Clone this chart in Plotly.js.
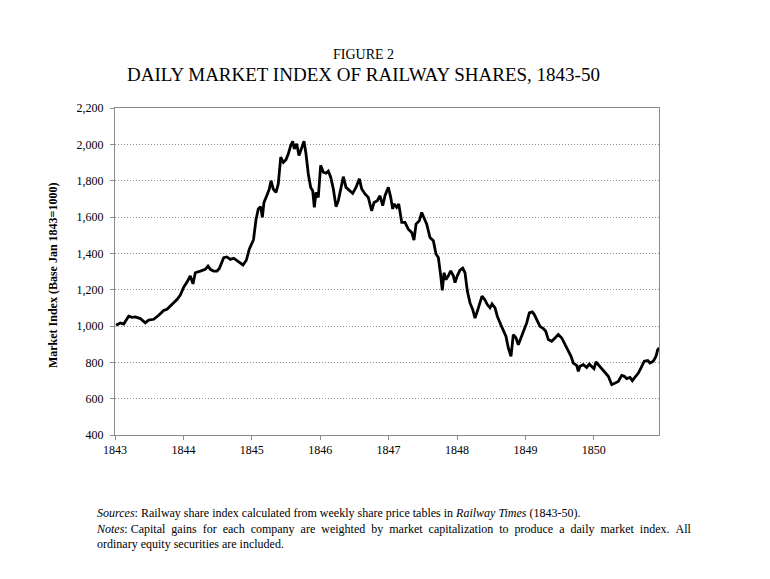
<!DOCTYPE html>
<html>
<head>
<meta charset="utf-8">
<script src="https://cdn.plot.ly/plotly-3.0.1.min.js"></script>
<style>
  html, body { margin: 0; padding: 0; background: #fff; }
  #chart { width: 770px; height: 579px; }
</style>
</head>
<body>
<div id="chart"></div>
<script>
// Decimal year positions of the traced points
const years = [
  1843.015, 1843.077, 1843.127, 1843.151, 1843.200, 1843.249, 1843.297, 1843.370, 1843.443, 1843.493,
  1843.566, 1843.639, 1843.712, 1843.760, 1843.833, 1843.906, 1843.955, 1844.004, 1844.053, 1844.101,
  1844.140, 1844.174, 1844.247, 1844.320, 1844.360, 1844.393, 1844.443, 1844.491, 1844.525, 1844.589,
  1844.637, 1844.686, 1844.735, 1844.784, 1844.832, 1844.871, 1844.920, 1844.963, 1845.025, 1845.061,
  1845.095, 1845.130, 1845.154, 1845.178, 1845.218, 1845.256, 1845.281, 1845.314, 1845.354, 1845.387,
  1845.423, 1845.461, 1845.500, 1845.534, 1845.569, 1845.598, 1845.621, 1845.656, 1845.690, 1845.730,
  1845.763, 1845.792, 1845.826, 1845.861, 1845.890, 1845.914, 1845.939, 1845.972, 1846.007, 1846.045,
  1846.085, 1846.118, 1846.154, 1846.192, 1846.231, 1846.265, 1846.300, 1846.338, 1846.377, 1846.425,
  1846.475, 1846.523, 1846.572, 1846.607, 1846.655, 1846.703, 1846.753, 1846.787, 1846.835, 1846.874,
  1846.914, 1846.947, 1846.996, 1847.031, 1847.060, 1847.079, 1847.118, 1847.148, 1847.192, 1847.240,
  1847.288, 1847.338, 1847.371, 1847.401, 1847.449, 1847.484, 1847.518, 1847.557, 1847.605, 1847.654,
  1847.693, 1847.727, 1847.762, 1847.785, 1847.810, 1847.839, 1847.873, 1847.908, 1847.946, 1847.971,
  1848.004, 1848.044, 1848.083, 1848.117, 1848.151, 1848.190, 1848.229, 1848.263, 1848.297, 1848.336,
  1848.365, 1848.405, 1848.443, 1848.482, 1848.512, 1848.556, 1848.589, 1848.639, 1848.677, 1848.716,
  1848.750, 1848.789, 1848.823, 1848.863, 1848.896, 1848.936, 1848.969, 1849.019, 1849.057, 1849.101,
  1849.130, 1849.165, 1849.213, 1849.262, 1849.297, 1849.335, 1849.384, 1849.433, 1849.481, 1849.531,
  1849.579, 1849.627, 1849.667, 1849.700, 1849.750, 1849.773, 1849.798, 1849.846, 1849.896, 1849.934,
  1849.969, 1850.003, 1850.032, 1850.066, 1850.115, 1850.164, 1850.212, 1850.262, 1850.310, 1850.358,
  1850.408, 1850.446, 1850.481, 1850.529, 1850.563, 1850.602, 1850.651, 1850.690, 1850.738, 1850.788,
  1850.822, 1850.870, 1850.909, 1850.934, 1850.958
];
// Market index values (Base Jan 1843 = 1000)
const marketIndex = [
  1004, 1017, 1011, 1026, 1054, 1048, 1050, 1041, 1017, 1033,
  1037, 1059, 1085, 1092, 1118, 1146, 1170, 1214, 1242, 1275,
  1232, 1293, 1302, 1312, 1330, 1312, 1302, 1302, 1317, 1376,
  1380, 1367, 1373, 1358, 1343, 1336, 1362, 1423, 1475, 1585,
  1644, 1657, 1598, 1680, 1717, 1754, 1800, 1754, 1736, 1782,
  1929, 1901, 1915, 1948, 1994, 2017, 1975, 2003, 1938, 1984,
  2017, 1948, 1837, 1763, 1745, 1653, 1736, 1708, 1884, 1847,
  1841, 1852, 1819, 1754, 1657, 1690, 1745, 1822, 1763, 1745,
  1730, 1763, 1810, 1754, 1727, 1708, 1634, 1680, 1690, 1717,
  1662, 1717, 1763, 1708, 1644, 1672, 1653, 1672, 1570, 1570,
  1533, 1515, 1473, 1561, 1579, 1625, 1598, 1561, 1487, 1469,
  1396, 1377, 1276, 1196, 1293, 1256, 1276, 1304, 1276, 1239,
  1276, 1307, 1318, 1293, 1192, 1127, 1091, 1044, 1081, 1136,
  1164, 1146, 1118, 1100, 1122, 1100, 1054, 1008, 971, 943,
  879, 833, 953, 934, 897, 934, 971, 1017, 1072, 1078,
  1063, 1035, 998, 986, 971, 925, 916, 934, 953, 934,
  897, 869, 833, 796, 783, 750, 778, 787, 772, 790,
  778, 765, 802, 787, 760, 741, 723, 677, 686, 695,
  728, 723, 710, 717, 699, 717, 741, 769, 806, 810,
  796, 806, 833, 869, 879
];
const xTickVals = [1843, 1844, 1845, 1846, 1847, 1848, 1849, 1850];
const xTickText = ['1843', '1844', '1845', '1846', '1847', '1848', '1849', '1850'];
const yTickVals = [400, 600, 800, 1000, 1200, 1400, 1600, 1800, 2000, 2200];
const yTickText = ['400', '600', '800', '1,000', '1,200', '1,400', '1,600', '1,800', '2,000', '2,200'];

const serif = 'Liberation Serif, Times New Roman, serif';

// justified second note line: widen each word gap
const justify = s => s.split(' ').join(' \u00A0');

const trace = {
  x: years,
  y: marketIndex,
  type: 'scatter',
  mode: 'lines',
  line: { color: '#000000', width: 2.8 },
  hoverinfo: 'x+y'
};

const layout = {
  width: 770,
  height: 579,
  margin: { l: 115, r: 111, t: 108, b: 144 },
  paper_bgcolor: '#ffffff',
  plot_bgcolor: '#ffffff',
  showlegend: false,
  font: { family: serif, size: 12, color: '#000' },
  xaxis: {
    range: [1843, 1850.953],
    tickvals: xTickVals,
    ticktext: xTickText,
    showgrid: false,
    zeroline: false,
    showline: true,
    linecolor: '#8c8c8c',
    linewidth: 1,
    mirror: true,
    ticks: 'outside',
    ticklen: 4,
    tickcolor: '#8c8c8c',
    tickfont: { family: serif, size: 12, color: '#000' }
  },
  yaxis: {
    range: [400, 2200],
    tickvals: yTickVals,
    ticktext: yTickText,
    showgrid: true,
    gridcolor: '#909090',
    griddash: '1px,2px',
    gridwidth: 1,
    zeroline: false,
    showline: true,
    linecolor: '#8c8c8c',
    linewidth: 1,
    mirror: true,
    ticks: 'outside',
    ticklen: 4,
    tickcolor: '#8c8c8c',
    ticklabelstandoff: 4,
    tickfont: { family: serif, size: 12, color: '#000' }
  },
  annotations: [
    {
      text: 'FIGURE 2',
      xref: 'paper', yref: 'paper', x: 0.456, y: 1.165,
      xanchor: 'center', yanchor: 'middle', showarrow: false,
      font: { family: serif, size: 14, color: '#000' }
    },
    {
      text: 'DAILY MARKET INDEX OF RAILWAY SHARES, 1843-50',
      xref: 'paper', yref: 'paper', x: 0.456, y: 1.101,
      xanchor: 'center', yanchor: 'middle', showarrow: false,
      font: { family: serif, size: 19, color: '#000' }
    },
    {
      text: '<b>Market Index (Base Jan 1843=1000)</b>',
      xref: 'paper', yref: 'paper', x: -0.114, y: 0.489,
      xanchor: 'center', yanchor: 'middle', textangle: -90, showarrow: false,
      font: { family: serif, size: 12, color: '#000' }
    },
    {
      text: '<i>Sources</i>: Railway share index calculated from weekly share price tables in <i>Railway Times</i> (1843-50).<br>' +
            '<i>Notes</i>: ' + justify('Capital gains for each company are weighted by market capitalization to produce a daily market index. All') + '<br>' +
            'ordinary equity securities are included.',
      xref: 'paper', yref: 'paper', x: -0.0386, y: -0.211,
      xanchor: 'left', yanchor: 'top', align: 'left', showarrow: false,
      font: { family: serif, size: 12, color: '#000' }
    }
  ]
};

Plotly.newPlot('chart', [trace], layout, { displayModeBar: false, staticPlot: true });
</script>
</body>
</html>
